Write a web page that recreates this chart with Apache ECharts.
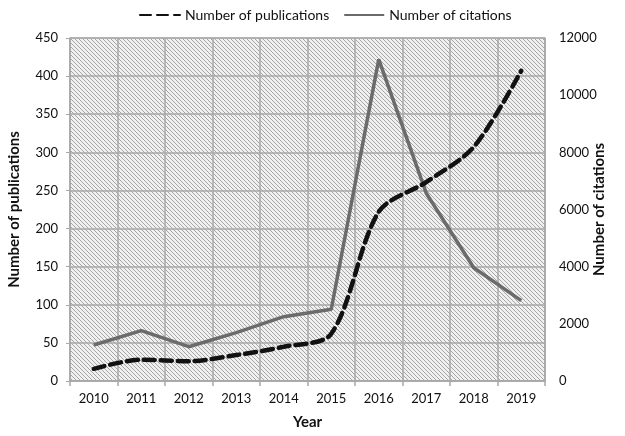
<!DOCTYPE html>
<html>
<head>
<meta charset="utf-8">
<script src="https://cdn.jsdelivr.net/npm/echarts@6/dist/echarts.min.js"></script>
<style>
  html, body { margin: 0; padding: 0; background: #fff; }
</style>
</head>
<body>
<div id="chart" style="width: 625px; height: 436px;"></div>
<script>
// chart data
const years = ['2010', '2011', '2012', '2013', '2014', '2015', '2016', '2017', '2018', '2019'];
const publications = [16, 28, 26, 34, 45, 62, 222, 261, 307, 407];
const citations = [1260, 1760, 1200, 1690, 2250, 2510, 11250, 6570, 3960, 2810];

const FONT = 'Lato, "Open Sans", sans-serif';

// diagonal hatch for the plot background
function hatch() {
  const c = document.createElement('canvas');
  c.width = 4;
  c.height = 4;
  const ctx = c.getContext('2d');
  ctx.fillStyle = '#f0f0f0';
  ctx.fillRect(0, 0, 4, 4);
  ctx.strokeStyle = '#a6a6a6';
  ctx.lineWidth = 1;
  ctx.beginPath();
  ctx.moveTo(-1, -1); ctx.lineTo(5, 5);
  ctx.moveTo(-1, 3); ctx.lineTo(1, 5);
  ctx.moveTo(3, -1); ctx.lineTo(5, 1);
  ctx.stroke();
  return c;
}

const myChart = echarts.init(document.getElementById('chart'));

const option = {
  animation: false,
  textStyle: { fontFamily: FONT },
  legend: {
    top: 3,
    left: 134,
    itemWidth: 40,
    itemHeight: 12,
    itemGap: 14,
    itemStyle: { opacity: 0 },
    textStyle: { fontFamily: FONT, fontSize: 14, color: '#111' },
    data: ['Number of publications', 'Number of citations']
  },
  grid: {
    left: 70,
    right: 80,
    top: 38,
    bottom: 55,
    outerBoundsMode: 'none',
    show: true,
    borderColor: '#a8a8a8',
    borderWidth: 1,
    backgroundColor: { image: hatch(), repeat: 'repeat' }
  },
  xAxis: {
    type: 'category',
    data: years,
    name: 'Year',
    nameLocation: 'middle',
    nameGap: 34,
    nameTextStyle: { fontFamily: FONT, fontSize: 15, fontWeight: 'bold', color: '#111' },
    axisLine: { lineStyle: { color: '#a8a8a8', width: 1.5 } },
    axisTick: { show: true, length: 5, lineStyle: { color: '#a8a8a8', width: 1.5 } },
    axisLabel: { fontFamily: FONT, fontSize: 13, color: '#111', margin: 11 },
    splitLine: { show: true, lineStyle: { color: '#a8a8a8', width: 1.5 } }
  },
  yAxis: [
    {
      type: 'value',
      min: 0,
      max: 450,
      interval: 50,
      name: 'Number of publications',
      nameLocation: 'middle',
      nameGap: 48,
      nameMoveOverlap: false,
      nameTextStyle: { fontFamily: FONT, fontSize: 15, fontWeight: 'bold', color: '#111' },
      axisLine: { show: true, lineStyle: { color: '#a8a8a8', width: 1.5 } },
      axisTick: { show: true, length: 4, lineStyle: { color: '#a8a8a8' } },
      axisLabel: { fontFamily: FONT, fontSize: 13, color: '#111', margin: 12 },
      splitLine: { show: true, lineStyle: { color: '#a8a8a8', width: 1.5 } }
    },
    {
      type: 'value',
      min: 0,
      max: 12000,
      interval: 2000,
      name: 'Number of citations',
      nameLocation: 'middle',
      nameRotate: 90,
      nameGap: 47,
      nameMoveOverlap: false,
      nameTextStyle: { fontFamily: FONT, fontSize: 15, fontWeight: 'bold', color: '#111' },
      axisLine: { show: true, lineStyle: { color: '#a8a8a8', width: 1.5 } },
      axisTick: { show: false },
      axisLabel: { fontFamily: FONT, fontSize: 13, color: '#111', margin: 14, formatter: v => String(v) },
      splitLine: { show: false }
    }
  ],
  series: [
    {
      name: 'Number of publications',
      type: 'line',
      yAxisIndex: 0,
      data: publications,
      smooth: 0.3,
      symbol: 'none',
      lineStyle: { color: '#111', width: 4.5, type: [11, 6], cap: 'round' },
      itemStyle: { color: '#111' },
      z: 3
    },
    {
      name: 'Number of citations',
      type: 'line',
      yAxisIndex: 1,
      data: citations,
      symbol: 'none',
      lineStyle: { color: '#6b6b6b', width: 3.5 },
      itemStyle: { color: '#6b6b6b' },
      z: 2
    }
  ]
};

myChart.setOption(option);
</script>
</body>
</html>
